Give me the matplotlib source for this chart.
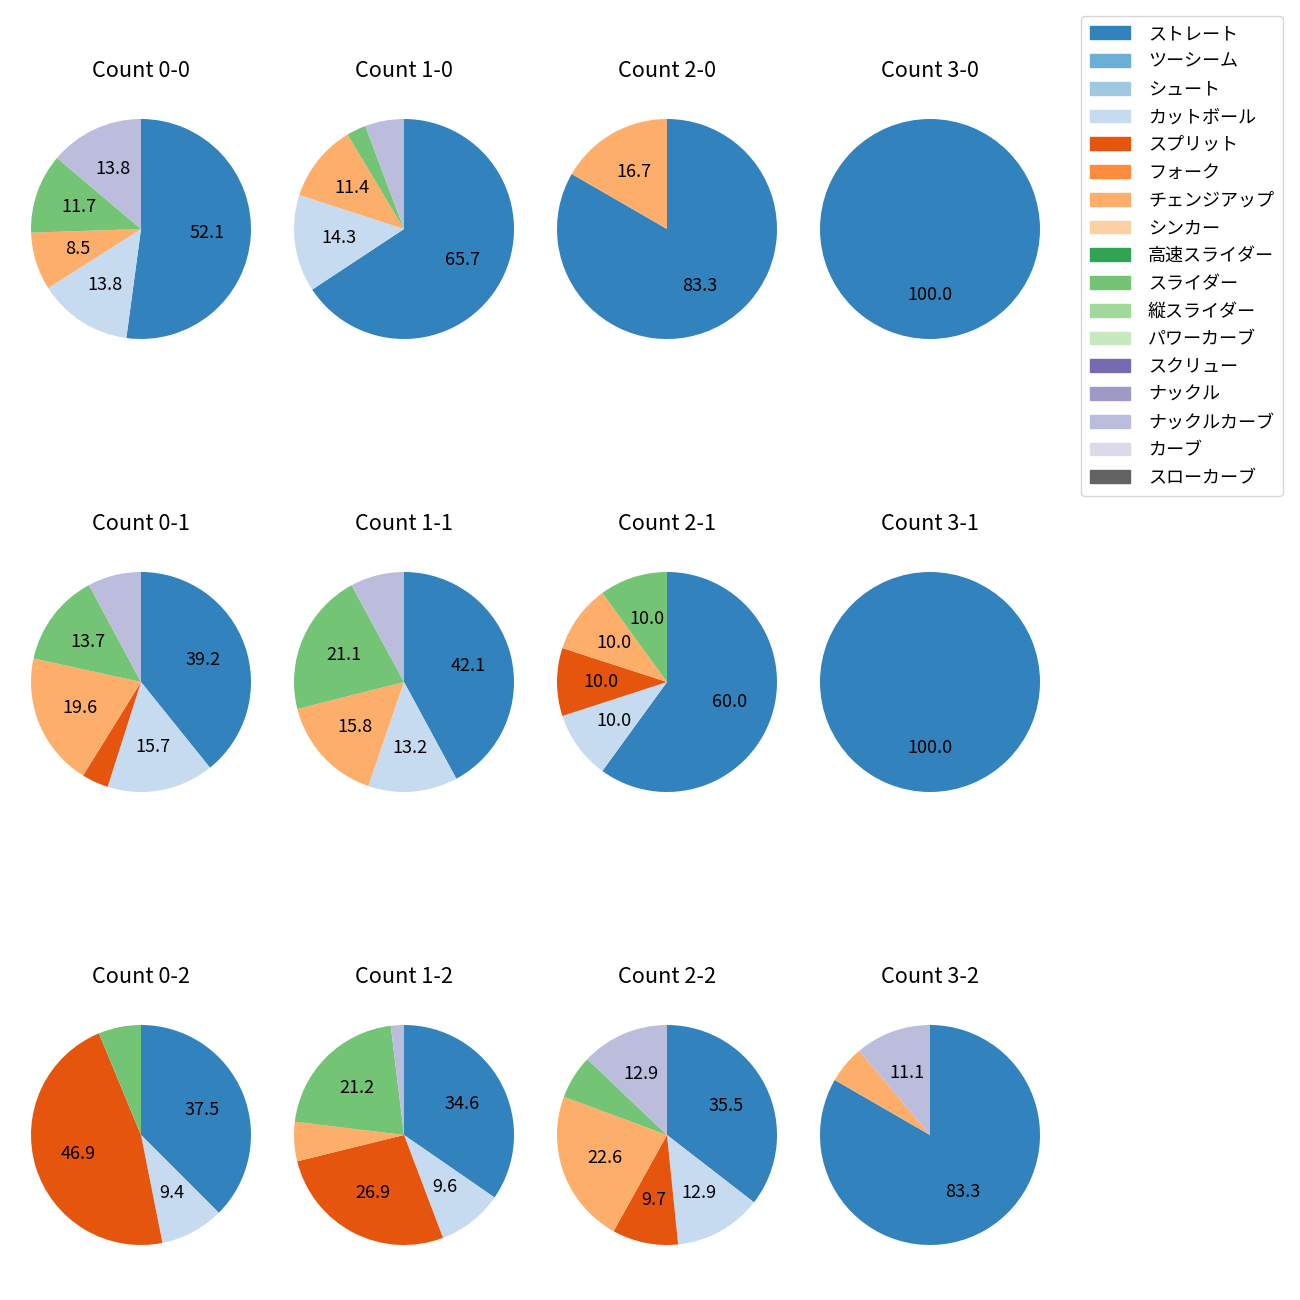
# Pitch mix by ball-strike count, one pie per count

import matplotlib
matplotlib.use('Agg')
from matplotlib import pyplot as plt
from matplotlib.patches import Patch

plt.rcParams['font.family'] = ['Noto Sans CJK JP', 'DejaVu Sans']
plt.rcParams['font.size'] = 13

pitch_types = ['ストレート', 'ツーシーム', 'シュート', 'カットボール', 'スプリット', 'フォーク',
               'チェンジアップ', 'シンカー', '高速スライダー', 'スライダー', '縦スライダー',
               'パワーカーブ', 'スクリュー', 'ナックル', 'ナックルカーブ', 'カーブ', 'スローカーブ']
pitch_colors = plt.get_cmap('tab20c').colors[:16] + ((0.388, 0.388, 0.388),)

# pitches thrown, only the types that appear
used = ['ストレート', 'カットボール', 'スプリット', 'チェンジアップ', 'スライダー', 'ナックルカーブ']

count_labels = ['0-0', '1-0', '2-0', '3-0',
                '0-1', '1-1', '2-1', '3-1',
                '0-2', '1-2', '2-2', '3-2']

c_0_0 = [49, 13, 0, 8, 11, 13]
c_1_0 = [23, 5, 0, 4, 1, 2]
c_2_0 = [5, 0, 0, 1, 0, 0]
c_3_0 = [3, 0, 0, 0, 0, 0]
c_0_1 = [20, 8, 2, 10, 7, 4]
c_1_1 = [16, 5, 0, 6, 8, 3]
c_2_1 = [6, 1, 1, 1, 1, 0]
c_3_1 = [2, 0, 0, 0, 0, 0]
c_0_2 = [12, 3, 15, 0, 2, 0]
c_1_2 = [18, 5, 14, 3, 11, 1]
c_2_2 = [11, 4, 3, 7, 2, 4]
c_3_2 = [15, 0, 0, 1, 0, 2]

all_counts = [c_0_0, c_1_0, c_2_0, c_3_0,
              c_0_1, c_1_1, c_2_1, c_3_1,
              c_0_2, c_1_2, c_2_2, c_3_2]


def show_pct(p):
  # small slices get no label
  return f'{p:.1f}' if p >= 8 else ''


W = 1300
fig, axes = plt.subplots(3, 4, figsize=(13, 13), dpi=100)
size = 275  # axes box in pixels

for k, ax in enumerate(axes.flat):
  row, col = divmod(k, 4)
  cx = 141 + 263 * col
  cy = 229 + 453 * row
  ax.set_position([(cx - size / 2) / W, 1 - (cy + size / 2) / W, size / W, size / W])

  vals = []
  cols = []
  for name, v in zip(used, all_counts[k]):
    if v > 0:
      vals.append(v)
      cols.append(pitch_colors[pitch_types.index(name)])
  ax.pie(vals, colors=cols, startangle=90, counterclock=False, autopct=show_pct)
  ax.set_title('Count ' + count_labels[k], pad=10.5)

handles = [Patch(color=c) for c in pitch_colors]
fig.legend(handles, pitch_types, loc='upper right', labelspacing=0.54,
           handlelength=2.2, handletextpad=1.0, borderpad=0.5,
           bbox_to_anchor=(1283 / W, 1 - 16 / W), borderaxespad=0)

plt.savefig('out.png')
